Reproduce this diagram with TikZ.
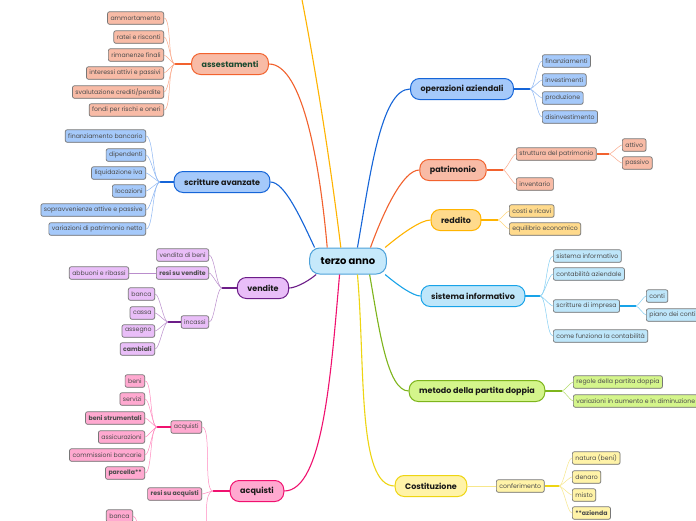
\documentclass[tikz,border=0pt]{standalone}
\usepackage{fontspec}
\setmainfont{Poppins}
\usetikzlibrary{calc,positioning,shadows}

\definecolor{rootfill}{HTML}{C6E9FB}
\definecolor{rootline}{HTML}{4EA2DA}
\definecolor{redline}{HTML}{F2622E}
\definecolor{redfill}{HTML}{F8BBA6}
\definecolor{redtwig}{HTML}{FBAA8C}
\definecolor{asstext}{HTML}{1B4A30}
\definecolor{blueline}{HTML}{1565D8}
\definecolor{bluefill}{HTML}{A5C9FA}
\definecolor{bluetwig}{HTML}{8EB7F3}
\definecolor{purpleline}{HTML}{6C1D88}
\definecolor{purplefill}{HTML}{E9BEF8}
\definecolor{purpletwig}{HTML}{BA8DCC}
\definecolor{pinkline}{HTML}{F0116F}
\definecolor{pinkfill}{HTML}{FFA9D0}
\definecolor{pinktwig}{HTML}{FF8ABF}
\definecolor{amberline}{HTML}{FFB400}
\definecolor{amberfill}{HTML}{FFDA8C}
\definecolor{ambertwig}{HTML}{FFD77C}
\definecolor{skyline}{HTML}{18A3E8}
\definecolor{skyfill}{HTML}{BEE6FA}
\definecolor{skytwig}{HTML}{84CFF3}
\definecolor{greenline}{HTML}{7EB51C}
\definecolor{greenfill}{HTML}{D4F58B}
\definecolor{greentwig}{HTML}{B4DC6B}
\definecolor{yellowline}{HTML}{EED512}
\definecolor{yellowfill}{HTML}{FFF3A8}
\definecolor{yellowtwig}{HTML}{F7E78B}
\definecolor{leafline}{HTML}{777777}

\begin{document}
\begin{tikzpicture}[x=1pt,y=1pt,
root/.style={rectangle, rounded corners=10pt, draw=rootline, fill=rootfill, line width=1pt, minimum height=26pt, inner xsep=11pt, font=\fontsize{10}{11}\selectfont\bfseries},
topic/.style={rectangle, rounded corners=9pt, line width=1pt, minimum height=21pt, inner xsep=10pt, font=\fontsize{8}{9}\selectfont\bfseries, text=black!90},
leaf/.style={rectangle, rounded corners=2pt, draw=leafline, line width=0.7pt, minimum height=12.5pt, inner xsep=3pt, inner ysep=0pt, font=\fontsize{6.2}{7}\selectfont, text=black!70, drop shadow={shadow xshift=0.4pt, shadow yshift=-0.6pt, opacity=0.3}},
branch/.style={line width=1.1pt, out looseness=1.1, in looseness=0.45},
stub/.style={line width=1.4pt},
twig/.style={line width=0.5pt, looseness=0.4}]

\useasboundingbox[fill=white] (0,0) rectangle (696,-520);

%% centre and main topics
\node[root] (root) at (348,-261) {terzo anno};

\node[topic, draw=redline, fill=redfill, text=asstext] (asse) at (230,-64) {assestamenti};
\node[topic, draw=blueline, fill=bluefill] (scri) at (222,-182) {scritture avanzate};
\node[topic, draw=purpleline, fill=purplefill] (vend) at (263,-288) {vendite};
\node[topic, draw=pinkline, fill=pinkfill] (acqu) at (257,-491) {acquisti};
\node[topic, draw=blueline, fill=bluefill] (oper) at (462,-89) {operazioni aziendali};
\node[topic, draw=redline, fill=redfill] (patr) at (453,-170) {patrimonio};
\node[topic, draw=amberline, fill=amberfill] (redd) at (456,-220) {reddito};
\node[topic, draw=skyline, fill=skyfill] (sist) at (473,-296) {sistema informativo};
\node[topic, draw=greenline, fill=greenfill] (meto) at (477,-391) {metodo della partita doppia};
\node[topic, draw=yellowline, fill=yellowfill] (cost) at (431,-486) {Costituzione};

%% main branches
\coordinate (upper) at (296,30);
\draw[branch,amberline] (root.118) to[out=97,in=-78] (upper);
\foreach \a/\n/\c/\o/\i in {147/asse.east/redline/95/0, 158/scri.east/blueline/115/0,
    203/vend.east/purpleline/220/0, 238/acqu.east/pinkline/265/0,
    55/oper.west/blueline/80/180, 31/patr.west/redline/70/180,
    20/redd.west/amberline/40/180, 340/sist.west/skyline/-40/180,
    328/meto.west/greenline/-80/180, 305/cost.west/yellowline/-85/180}
  \draw[branch,\c] (root.\a) to[out=\o,in=\i] (\n);

%% assestamenti
\coordinate (asse-j) at (175,-64);
\draw[stub,redline] (asse.west) -- (asse-j);
\foreach \t/\y [count=\k] in {ammortamento/18, ratei e risconti/37, rimanenze finali/55,
    interessi attivi e passivi/73, {svalutazione crediti/perdite}/92, fondi per rischi e oneri/110}
{
  \node[leaf,fill=redfill,anchor=east] (asse-\k) at (164,-\y) {\t};
  \draw[twig,redtwig] (asse-j) to[out=180,in=0] (asse-\k.east);
}

%% scritture avanzate
\coordinate (scri-j) at (160,-182);
\draw[stub,blueline] (scri.west) -- (scri-j);
\foreach \t/\y [count=\k] in {finanziamento bancario/136, dipendenti/155, liquidazione iva/173,
    locazioni/191, sopravvenienze attive e passive/210, variazioni di patrimonio netto/229}
{
  \node[leaf,fill=bluefill,anchor=east] (scri-\k) at (146,-\y) {\t};
  \draw[twig,bluetwig] (scri-j) to[out=180,in=0] (scri-\k.east);
}

%% vendite
\coordinate (vend-j) at (222,-288);
\draw[stub,purpleline] (vend.west) -- (vend-j);
\foreach \t/\y [count=\k] in {vendita di beni/255, \textbf{resi su vendite}/273, incassi/322}
{
  \node[leaf,fill=purplefill,anchor=east] (vend-\k) at (209,-\y) {\t};
  \draw[twig,purpletwig] (vend-j) to[out=180,in=0] (vend-\k.east);
}
\node[leaf,fill=purplefill,anchor=east] (abbu) at (129,-273) {abbuoni e ribassi};
\draw[twig,purpletwig] (vend-2.west) -- (abbu.east);

\coordinate (inca-j) at (168,-322);
\draw[stub,purpleline] (vend-3.west) -- (inca-j);
\foreach \t/\y [count=\k] in {banca/294, cassa/313, assegno/331, \textbf{cambiali}/349}
{
  \node[leaf,fill=purplefill,anchor=east] (inca-\k) at (155,-\y) {\t};
  \draw[twig,purpletwig] (inca-j) to[out=180,in=0] (inca-\k.east);
}

%% acquisti
\coordinate (acqu-j) at (213,-491);
\draw[stub,pinkline] (acqu.west) -- (acqu-j);
\foreach \t/\y [count=\k] in {acquisti/427, \textbf{resi su acquisti}/494}
{
  \node[leaf,fill=pinkfill,anchor=east] (acqu-\k) at (202,-\y) {\t};
  \draw[twig,pinktwig] (acqu-j) to[out=180,in=0] (acqu-\k.east);
}
\coordinate (acqu-3) at (202,-600);
\draw[twig,pinktwig] (acqu-j) to[out=180,in=0] (acqu-3);

\coordinate (buy-j) at (157,-427);
\draw[stub,pinkline] (acqu-1.west) -- (buy-j);
\foreach \t/\y [count=\k] in {beni/381, servizi/399, \textbf{beni strumentali}/418,
    assicurazioni/437, commissioni bancarie/455, \textbf{parcella**}/473}
{
  \node[leaf,fill=pinkfill,anchor=east] (buy-\k) at (145,-\y) {\t};
  \draw[twig,pinktwig] (buy-j) to[out=180,in=0] (buy-\k.east);
}

\node[leaf,fill=pinkfill,anchor=east] (pay-1) at (133,-516) {banca};
\coordinate (pay-j) at (146,-560);
\draw[twig,pinktwig] (pay-j) to[out=180,in=0] (pay-1.east);

%% operazioni aziendali
\coordinate (oper-j) at (530,-89);
\draw[stub,blueline] (oper.east) -- (oper-j);
\foreach \t/\y [count=\k] in {finanziamenti/61, investimenti/80, produzione/98, disinvestimento/117}
{
  \node[leaf,fill=bluefill,anchor=west] (oper-\k) at (542,-\y) {\t};
  \draw[twig,bluetwig] (oper-j) to[out=0,in=180] (oper-\k.west);
}

%% patrimonio
\coordinate (patr-j) at (503,-170);
\draw[stub,redline] (patr.east) -- (patr-j);
\foreach \t/\y [count=\k] in {struttura del patrimonio/154, inventario/184}
{
  \node[leaf,fill=redfill,anchor=west] (patr-\k) at (516,-\y) {\t};
  \draw[twig,redtwig] (patr-j) to[out=0,in=180] (patr-\k.west);
}
\coordinate (stru-j) at (609,-154);
\draw[stub,redline] (patr-1.east) -- (stru-j);
\foreach \t/\y [count=\k] in {attivo/145, passivo/163}
{
  \node[leaf,fill=redfill,anchor=west] (stru-\k) at (622,-\y) {\t};
  \draw[twig,redtwig] (stru-j) to[out=0,in=180] (stru-\k.west);
}

%% reddito
\coordinate (redd-j) at (498,-220);
\draw[stub,amberline] (redd.east) -- (redd-j);
\foreach \t/\y [count=\k] in {costi e ricavi/211, equilibrio economico/229}
{
  \node[leaf,fill=amberfill,anchor=west] (redd-\k) at (509,-\y) {\t};
  \draw[twig,ambertwig] (redd-j) to[out=0,in=180] (redd-\k.west);
}

%% sistema informativo
\coordinate (sist-j) at (540,-296);
\draw[stub,skyline] (sist.east) -- (sist-j);
\foreach \t/\y [count=\k] in {sistema informativo/256, contabilità aziendale/274,
    scritture di impresa/306, come funziona la contabilità/336}
{
  \node[leaf,fill=skyfill,anchor=west] (sist-\k) at (553,-\y) {\t};
  \draw[twig,skytwig] (sist-j) to[out=0,in=180] (sist-\k.west);
}
\coordinate (impr-j) at (636,-306);
\draw[stub,skyline] (sist-3.east) -- (impr-j);
\foreach \t/\y [count=\k] in {conti/296, piano dei conti/315}
{
  \node[leaf,fill=skyfill,anchor=west] (impr-\k) at (646,-\y) {\t};
  \draw[twig,skytwig] (impr-j) to[out=0,in=180] (impr-\k.west);
}

%% metodo della partita doppia
\coordinate (meto-j) at (562,-391);
\draw[stub,greenline] (meto.east) -- (meto-j);
\foreach \t/\y [count=\k] in {regole della partita doppia/382, variazioni in aumento e in diminuzione/401}
{
  \node[leaf,fill=greenfill,anchor=west] (meto-\k) at (573,-\y) {\t};
  \draw[twig,greentwig] (meto-j) to[out=0,in=180] (meto-\k.west);
}

%% Costituzione
\node[leaf,fill=yellowfill,anchor=west] (conf) at (496,-486) {conferimento};
\draw[twig,yellowtwig,line width=0.9pt] (cost.east) -- (conf.west);
\coordinate (conf-j) at (559,-486);
\draw[stub,yellowline] (conf.east) -- (conf-j);
\foreach \t/\y [count=\k] in {natura (beni)/458, denaro/477, misto/495, \textbf{**azienda}/513}
{
  \node[leaf,fill=yellowfill,anchor=west] (conf-\k) at (572,-\y) {\t};
  \draw[twig,yellowtwig] (conf-j) to[out=0,in=180] (conf-\k.west);
}

\end{tikzpicture}
\end{document}
